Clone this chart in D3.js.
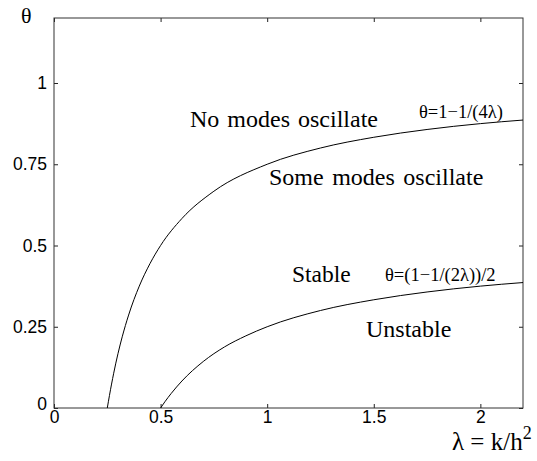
<!DOCTYPE html>
<html>
<head>
<meta charset="utf-8">
<script src="https://cdn.jsdelivr.net/npm/d3@7"></script>
<style>
  body { margin: 0; background: #fff; }
  .tick text { font-family: "Liberation Sans", Arial, sans-serif; font-size: 17.5px; fill: #000; }
  .lbl { font-family: "Liberation Serif", "Times New Roman", serif; fill: #000; }
</style>
</head>
<body>
<div id="chart"></div>
<script>
// curve samples
var lambdaUpper = [0.25, 0.26, 0.28, 0.3, 0.32, 0.35, 0.4, 0.45, 0.5, 0.6, 0.75, 1, 1.25, 1.5, 1.75, 2, 2.2];
var thetaUpper  = [0, 0.038, 0.107, 0.167, 0.219, 0.286, 0.375, 0.444, 0.5, 0.583, 0.667, 0.75, 0.8, 0.833, 0.857, 0.875, 0.886];

var lambdaLower = [0.5, 0.52, 0.55, 0.6, 0.7, 0.8, 0.9, 1, 1.25, 1.5, 1.75, 2, 2.2];
var thetaLower  = [0, 0.019, 0.045, 0.083, 0.143, 0.188, 0.222, 0.25, 0.3, 0.333, 0.357, 0.375, 0.386];

var xTicks = [0, 0.5, 1, 1.5, 2];
var yTicks = [0, 0.25, 0.5, 0.75, 1];

var width = 537, height = 461;
var margin = {top: 18, right: 14, bottom: 53, left: 54};

var svg = d3.select("#chart").append("svg")
    .attr("width", width)
    .attr("height", height);

var x = d3.scaleLinear().domain([0, 2.2]).range([margin.left, width - margin.right]);
var y = d3.scaleLinear().domain([0, 1.2]).range([height - margin.bottom, margin.top]);

var fmt = function(d) { return String(d); };

// axes with inward ticks (matlab style)
svg.append("g")
    .attr("transform", "translate(0," + y(0) + ")")
    .call(d3.axisBottom(x).tickValues(xTicks).tickFormat(fmt).tickSizeInner(-4).tickSizeOuter(0).tickPadding(3));
var yAxis = svg.append("g")
    .attr("transform", "translate(" + x(0) + ",0)")
    .call(d3.axisLeft(y).tickValues(yTicks).tickFormat(fmt).tickSizeInner(-4).tickSizeOuter(0).tickPadding(7));
// the zero label sits a little higher in the original
yAxis.selectAll(".tick text").filter(function(d) { return d === 0; }).attr("y", -4);

svg.append("g")
    .attr("transform", "translate(0," + y(1.2) + ")")
    .call(d3.axisTop(x).tickValues(xTicks).tickFormat("").tickSizeInner(-4).tickSizeOuter(0));
svg.append("g")
    .attr("transform", "translate(" + x(2.2) + ",0)")
    .call(d3.axisRight(y).tickValues(yTicks).tickFormat("").tickSizeInner(-4).tickSizeOuter(0));

svg.selectAll(".domain").remove();
svg.selectAll(".tick line").attr("stroke", "#222");

svg.append("rect")
    .attr("x", x(0)).attr("y", y(1.2))
    .attr("width", x(2.2) - x(0)).attr("height", y(0) - y(1.2))
    .attr("fill", "none").attr("stroke", "#333").attr("stroke-width", 1);

var line = d3.line()
    .x(function(d) { return x(d[0]); })
    .y(function(d) { return y(d[1]); })
    .curve(d3.curveMonotoneX);

svg.append("path")
    .datum(d3.zip(lambdaUpper, thetaUpper))
    .attr("d", line)
    .attr("fill", "none").attr("stroke", "#000").attr("stroke-width", 1);

svg.append("path")
    .datum(d3.zip(lambdaLower, thetaLower))
    .attr("d", line)
    .attr("fill", "none").attr("stroke", "#000").attr("stroke-width", 1);

// region labels
function label(txt, px, py, size) {
    return svg.append("text").attr("class", "lbl")
        .attr("x", px).attr("y", py)
        .style("font-size", size + "px")
        .text(txt);
}
label("No modes oscillate", 190, 127, 24).style("word-spacing", "2px");
label("Some modes oscillate", 269, 185, 24).style("word-spacing", "2.5px");
label("Stable", 292, 282, 23.5);
label("Unstable", 366, 337, 24);
label("θ=1−1/(4λ)", 419, 118, 18.5);
label("θ=(1−1/(2λ))/2", 385, 281, 18.5);

// axis titles
label("θ", 21, 23, 22);
var xl = label("λ = k/h", 452, 450, 25);
xl.append("tspan").attr("dy", -11).style("font-size", "18px").text("2");
</script>
</body>
</html>
